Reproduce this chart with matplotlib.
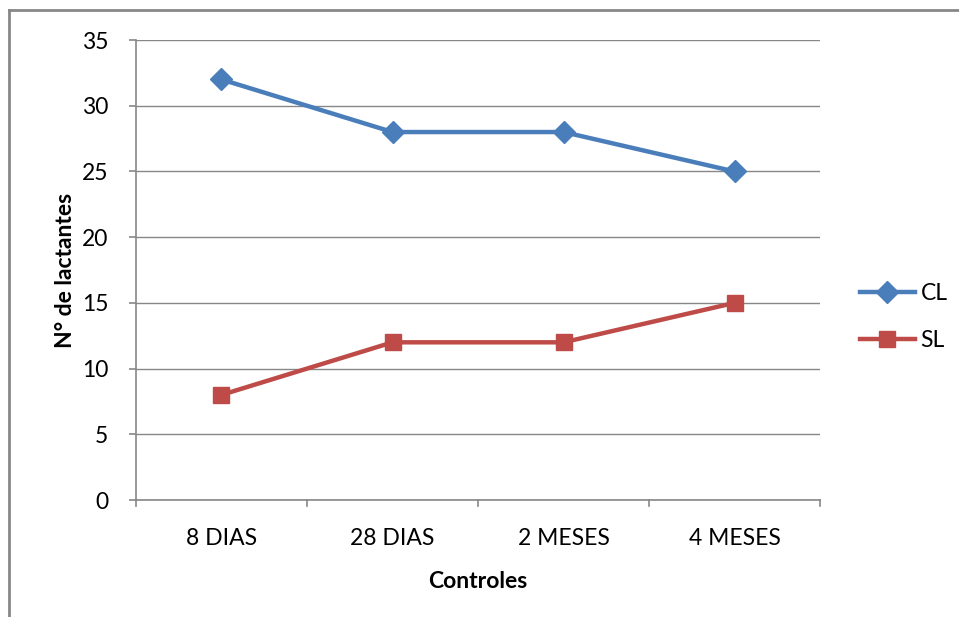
import matplotlib.pyplot as plt
from matplotlib.lines import Line2D

plt.rcParams['font.family'] = ['Lato', 'DejaVu Sans']

controles = ["8 DIAS", "28 DIAS", "2 MESES", "4 MESES"]
cl = [32, 28, 28, 25]
sl = [8, 12, 12, 15]
yticks = [0, 5, 10, 15, 20, 25, 30, 35]

grey = "#878787"
fs = 16.5

fig = plt.figure(figsize=(9.59, 6.17), dpi=100)
ax = fig.add_axes([0.1418, 0.1896, 0.7133, 0.7455])

x = list(range(len(controles)))
ax.plot(x, cl, color="#4A7EBB", lw=3.2, marker="D", ms=11.5, label="CL")
ax.plot(x, sl, color="#BE4B48", lw=3.2, marker="s", ms=12, label="SL")

ax.set_xlim(-0.5, len(controles) - 0.5)
ax.set_ylim(0, 35)
ax.set_yticks(yticks)
ax.set_yticklabels([str(v) for v in yticks], fontsize=fs)
ax.set_xticks(x)
ax.set_xticklabels(controles, fontsize=fs)
ax.tick_params(axis="x", length=0, pad=20)
ax.tick_params(axis="y", length=5, color=grey, width=1.2, pad=15)

# separadores entre categorias
for b in [i - 0.5 for i in range(len(controles) + 1)]:
    ax.plot([b, b], [0, -0.45], color=grey, lw=1.2, clip_on=False)

ax.grid(axis="y", color=grey, lw=1)
ax.set_axisbelow(True)
for s in ["top", "right"]:
    ax.spines[s].set_visible(False)
for s in ["left", "bottom"]:
    ax.spines[s].set_color(grey)
    ax.spines[s].set_linewidth(1.2)

ax.set_xlabel("Controles", fontsize=fs, fontweight="bold", labelpad=16)
ax.set_ylabel("N° de lactantes", fontsize=fs, fontweight="bold", labelpad=4)

ax.legend(loc="center left", bbox_to_anchor=(1.028, 0.398), frameon=False,
          fontsize=fs, handlelength=2.4, handletextpad=0.25, labelspacing=1.1)

# marco exterior
fig.add_artist(Line2D([0.0099, 1.0], [0.9838, 0.9838], transform=fig.transFigure, color=grey, lw=2))
fig.add_artist(Line2D([0.0099, 0.0099], [0.0, 0.9838], transform=fig.transFigure, color=grey, lw=2))

fig.savefig("out.png", dpi=100)
